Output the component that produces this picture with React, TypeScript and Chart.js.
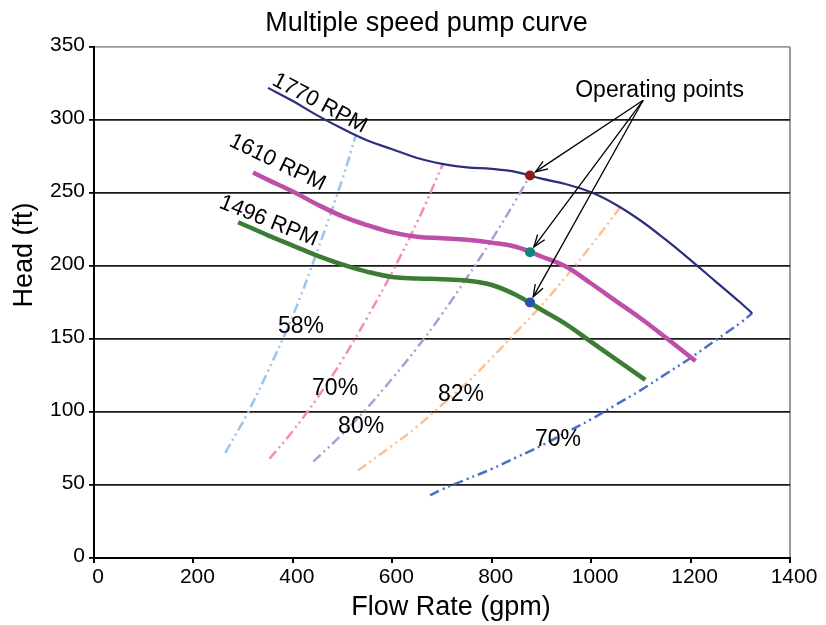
import React, { useEffect, useRef } from 'react';
import { Chart, registerables } from 'chart.js';

Chart.register(...registerables);

const FONT = '"Liberation Sans", Arial, Helvetica, sans-serif';

// Axis ticks
const xTickValues = [0, 200, 400, 600, 800, 1000, 1200, 1400];
const yTickValues = [0, 50, 100, 150, 200, 250, 300, 350];

// Pump curves (flow gpm, head ft)
const rpm1770Flow = [350, 400, 450, 500, 550, 600, 650, 700, 750, 800, 850, 900, 950, 1000, 1050, 1100, 1150, 1200, 1250, 1300, 1324];
const rpm1770Head = [322, 313, 303, 294, 286, 280, 274, 270, 267.5, 266.5, 264.3, 259.8, 256, 250.5, 242, 231, 218, 204, 189.5, 175, 167.6];

const rpm1610Flow = [320, 350, 400, 450, 500, 550, 600, 650, 700, 750, 800, 850, 900, 950, 1000, 1050, 1100, 1150, 1210];
const rpm1610Head = [264, 259, 251, 242, 234, 228, 223, 220, 219, 218, 216, 213, 206.5, 199.5, 188, 176, 164, 151, 135];

const rpm1496Flow = [290, 350, 400, 450, 500, 550, 600, 650, 700, 750, 800, 850, 900, 950, 1000, 1050, 1109];
const rpm1496Head = [230, 221, 214, 207, 201, 196, 192.5, 191.5, 191, 190, 187, 180, 170, 160, 148, 136, 122];

// Efficiency curves
const eff58Flow = [264, 307, 350, 400, 450, 500, 527];
const eff58Head = [72, 98, 128, 166, 211, 260, 290];

const eff70aFlow = [353, 400, 450, 500, 550, 600, 650, 702];
const eff70aHead = [68, 87, 110, 136, 165, 196, 230, 270];

const eff80Flow = [441, 500, 550, 600, 650, 700, 750, 800, 850, 877];
const eff80Head = [66, 85, 103, 123, 144, 167, 192, 218, 246, 262];

const eff82Flow = [531, 600, 650, 700, 750, 800, 850, 900, 950, 1000, 1058];
const eff82Head = [60, 77, 90, 105, 120, 137, 155, 173, 193, 214, 240];

const eff70bFlow = [676, 700, 750, 800, 850, 900, 950, 1000, 1050, 1100, 1150, 1200, 1250, 1300, 1324];
const eff70bHead = [43, 47, 54, 61, 69, 77, 86, 95, 105, 115, 126, 137, 149, 161, 167.6];

// Operating points
const opFlow = [877, 877, 877];
const opHead = [262, 209.5, 175];
const opColors = ['#8e1b1b', '#13857f', '#2f4fb0'];

const pts = (xs: number[], ys: number[]) => xs.map((x, i) => ({ x, y: ys[i] }));

const DASH = [10, 4, 2, 4, 2, 4];

const effLine = (label: string, xs: number[], ys: number[], color: string) => ({
  label,
  data: pts(xs, ys),
  borderColor: color,
  borderWidth: 2.5,
  borderDash: DASH,
  pointRadius: 0,
  showLine: true,
  fill: false,
  tension: 0.4,
});

const pumpLine = (label: string, xs: number[], ys: number[], color: string, w: number) => ({
  label,
  data: pts(xs, ys),
  borderColor: color,
  borderWidth: w,
  pointRadius: 0,
  showLine: true,
  fill: false,
  tension: 0.4,
});

// Annotation anchors in data units
const rpmLabels = [
  { text: '1770 RPM', x: 356, y: 324.5, angle: 28 },
  { text: '1610 RPM', x: 269.6, y: 282.7, angle: 26 },
  { text: '1496 RPM', x: 249.5, y: 240.3, angle: 22 },
];
const effLabels = [
  { text: '58%', x: 370, y: 154 },
  { text: '70%', x: 438.6, y: 111.7 },
  { text: '80%', x: 491, y: 85.7 },
  { text: '82%', x: 692, y: 107.6 },
  { text: '70%', x: 887, y: 76.8 },
];
const opLabel = { text: 'Operating points', x: 968, y: 315.5 };
const arrowFrom = { x: 1104.6, y: 313.5 };

const annotationPlugin = {
  id: 'annotations',
  afterDraw(chart: any) {
    const ctx = chart.ctx as CanvasRenderingContext2D;
    const xs = chart.scales.x;
    const ys = chart.scales.y;
    ctx.save();
    ctx.fillStyle = '#000';
    ctx.strokeStyle = '#000';

    // Title
    ctx.font = `27px ${FONT}`;
    ctx.textAlign = 'center';
    ctx.textBaseline = 'alphabetic';
    ctx.fillText('Multiple speed pump curve', 426.5, 31);

    // Axis titles
    ctx.font = `27px ${FONT}`;
    ctx.fillText('Flow Rate (gpm)', 451, 615);
    ctx.save();
    ctx.translate(32, 255);
    ctx.rotate(-Math.PI / 2);
    ctx.fillText('Head (ft)', 0, 0);
    ctx.restore();

    // RPM labels
    ctx.font = `22px ${FONT}`;
    ctx.textAlign = 'left';
    rpmLabels.forEach((l) => {
      ctx.save();
      ctx.translate(xs.getPixelForValue(l.x), ys.getPixelForValue(l.y));
      ctx.rotate((l.angle * Math.PI) / 180);
      ctx.fillText(l.text, 0, 0);
      ctx.restore();
    });

    ctx.font = `23px ${FONT}`;
    effLabels.forEach((l) => {
      ctx.fillText(l.text, xs.getPixelForValue(l.x), ys.getPixelForValue(l.y));
    });
    ctx.fillText(opLabel.text, xs.getPixelForValue(opLabel.x), ys.getPixelForValue(opLabel.y));

    // Arrows
    const ox = xs.getPixelForValue(arrowFrom.x);
    const oy = ys.getPixelForValue(arrowFrom.y);
    ctx.lineWidth = 1.3;
    opFlow.forEach((f, i) => {
      const px = xs.getPixelForValue(f);
      const py = ys.getPixelForValue(opHead[i]);
      const dx = ox - px;
      const dy = oy - py;
      const n = Math.hypot(dx, dy);
      const ux = dx / n;
      const uy = dy / n;
      const tx = px + ux * 6.5;
      const ty = py + uy * 6.5;
      ctx.beginPath();
      ctx.moveTo(ox, oy);
      ctx.lineTo(tx, ty);
      ctx.stroke();
      const L = 13;
      const a = (20 * Math.PI) / 180;
      const ang = Math.atan2(uy, ux);
      ctx.beginPath();
      ctx.moveTo(tx + L * Math.cos(ang + a), ty + L * Math.sin(ang + a));
      ctx.lineTo(tx, ty);
      ctx.lineTo(tx + L * Math.cos(ang - a), ty + L * Math.sin(ang - a));
      ctx.stroke();
    });
    ctx.restore();
  },
};

export default function App() {
  const ref = useRef<HTMLCanvasElement | null>(null);

  useEffect(() => {
    if (!ref.current) return;
    Chart.defaults.font.family = FONT;
    const chart = new Chart(ref.current, {
      type: 'scatter',
      data: {
        datasets: [
          {
            label: 'Operating points',
            data: pts(opFlow, opHead),
            pointRadius: 5,
            pointBackgroundColor: opColors,
            pointBorderColor: opColors,
            pointBorderWidth: 0,
            showLine: false,
          } as any,
          pumpLine('1770 RPM', rpm1770Flow, rpm1770Head, '#2b2f7e', 2.2),
          pumpLine('1610 RPM', rpm1610Flow, rpm1610Head, '#bd4fa8', 4.5),
          pumpLine('1496 RPM', rpm1496Flow, rpm1496Head, '#3b7d33', 4.5),
          effLine('58%', eff58Flow, eff58Head, '#9cc4ea'),
          effLine('70%', eff70aFlow, eff70aHead, '#f28cc0'),
          effLine('80%', eff80Flow, eff80Head, '#b49bd2'),
          effLine('82%', eff82Flow, eff82Head, '#fbc190'),
          effLine('70% ', eff70bFlow, eff70bHead, '#4a6fc6'),
        ],
      },
      options: {
        animation: false,
        responsive: false,
        maintainAspectRatio: false,
        layout: { padding: { top: 47, right: 36, left: 0, bottom: 0 } },
        plugins: {
          legend: { display: false },
          title: { display: false },
          tooltip: { enabled: false },
        },
        scales: {
          x: {
            type: 'linear',
            min: 0,
            max: 1400,
            afterBuildTicks: (s: any) => {
              s.ticks = xTickValues.map((v) => ({ value: v }));
            },
            afterFit: (s: any) => {
              s.height = 67;
            },
            ticks: {
              autoSkip: false,
              color: '#000',
              font: { size: 21, family: FONT },
              padding: 2,
              labelOffset: 4,
              maxRotation: 0,
              callback: (v: any) => String(v),
            },
            grid: {
              color: (c: any) => (c.tick && c.tick.value === 1400 ? '#9a9a9a' : 'rgba(0,0,0,0)'),
              tickColor: '#000',
              tickLength: 5,
              lineWidth: 2,
            },
            border: { color: '#000', width: 2 },
          },
          y: {
            type: 'linear',
            min: 0,
            max: 350,
            afterBuildTicks: (s: any) => {
              s.ticks = yTickValues.map((v) => ({ value: v }));
            },
            afterFit: (s: any) => {
              s.width = 94;
            },
            ticks: {
              autoSkip: false,
              color: '#000',
              font: { size: 21, family: FONT },
              padding: 4,
              labelOffset: -1.5,
              callback: (v: any) => String(v),
            },
            grid: {
              color: (c: any) => (c.tick && c.tick.value === 350 ? '#9a9a9a' : '#1a1a1a'),
              tickColor: '#000',
              tickLength: 5,
              lineWidth: 1.8,
            },
            border: { color: '#000', width: 2 },
          },
        },
      },
      plugins: [annotationPlugin],
    });
    return () => chart.destroy();
  }, []);

  return (
    <div style={{ position: 'absolute', left: 0, top: 0, width: 826, height: 625, background: '#fff' }}>
      <canvas ref={ref} width={826} height={625} style={{ display: 'block' }} />
    </div>
  );
}
